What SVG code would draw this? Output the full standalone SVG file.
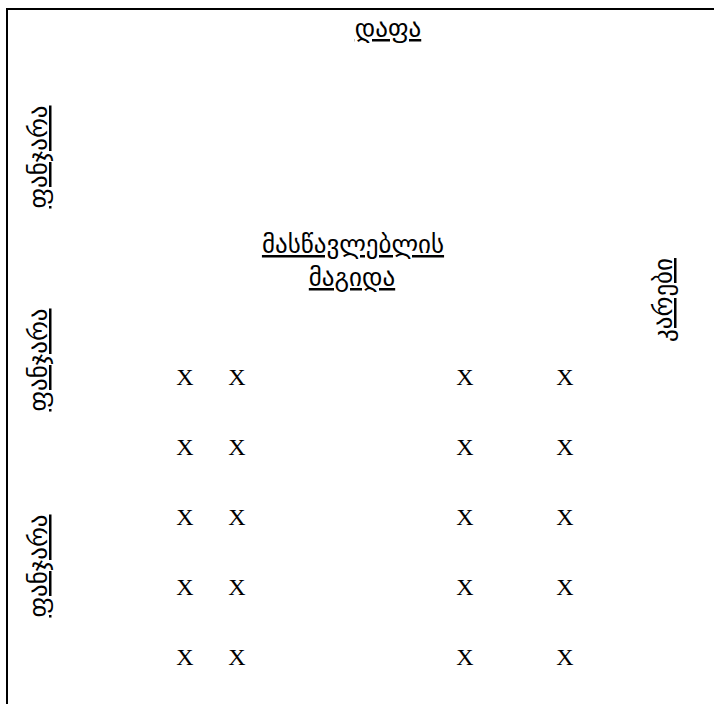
<svg xmlns="http://www.w3.org/2000/svg" width="714" height="704" viewBox="0 0 714 704">
<style>
.g{font-family:"DejaVu Sans","Noto Sans",sans-serif;font-size:25px;fill:#000;text-decoration:underline;text-anchor:middle}
.x{font-family:"Liberation Serif",serif;font-size:24px;fill:#000;text-anchor:middle}
</style>
<rect width="714" height="704" fill="#fff"/>
<g id="walls"><path d="M7,704 V9 H714" fill="none" stroke="#000" stroke-width="2"/></g>
<g id="board"><text class="g" x="388" y="37">დაფა</text></g>
<g id="window1"><text class="g" transform="translate(47,157) rotate(-90)">ფანჯარა</text></g>
<g id="window2"><text class="g" transform="translate(47,360) rotate(-90)">ფანჯარა</text></g>
<g id="window3"><text class="g" transform="translate(47,566) rotate(-90)">ფანჯარა</text></g>
<g id="door"><text class="g" transform="translate(672,300) rotate(-90)">კარები</text></g>
<g id="teacher-desk"><text class="g" x="353" y="253">მასწავლებლის</text><text class="g" x="352" y="286">მაგიდა</text></g>
<g id="seats">
<text class="x" x="185" y="385">X</text><text class="x" x="237" y="385">X</text><text class="x" x="465" y="385">X</text><text class="x" x="565" y="385">X</text>
<text class="x" x="185" y="455">X</text><text class="x" x="237" y="455">X</text><text class="x" x="465" y="455">X</text><text class="x" x="565" y="455">X</text>
<text class="x" x="185" y="525">X</text><text class="x" x="237" y="525">X</text><text class="x" x="465" y="525">X</text><text class="x" x="565" y="525">X</text>
<text class="x" x="185" y="595">X</text><text class="x" x="237" y="595">X</text><text class="x" x="465" y="595">X</text><text class="x" x="565" y="595">X</text>
<text class="x" x="185" y="665">X</text><text class="x" x="237" y="665">X</text><text class="x" x="465" y="665">X</text><text class="x" x="565" y="665">X</text>
</g>
</svg>
